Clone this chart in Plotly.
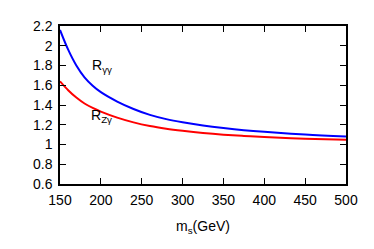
import plotly.graph_objects as go

ms = [150, 160, 170, 180, 190, 200, 220, 240, 260, 280, 300, 325, 350, 375, 400, 450, 500]
r_gg = [2.16, 1.96, 1.80, 1.68, 1.595, 1.53, 1.435, 1.36, 1.30, 1.257, 1.225, 1.193, 1.167, 1.145, 1.128, 1.101, 1.080]
r_zg = [1.64, 1.55, 1.475, 1.415, 1.37, 1.333, 1.272, 1.224, 1.187, 1.16, 1.139, 1.117, 1.100, 1.087, 1.076, 1.059, 1.047]

x_ticks = [150, 200, 250, 300, 350, 400, 450, 500]
y_ticks = [0.6, 0.8, 1.0, 1.2, 1.4, 1.6, 1.8, 2.0, 2.2]
y_labels = ["0.6", "0.8", "1", "1.2", "1.4", "1.6", "1.8", "2", "2.2"]

FONT = "Liberation Sans, Arial, sans-serif"

fig = go.Figure()
fig.add_trace(go.Scatter(x=ms, y=r_gg, mode="lines", line=dict(color="#0000ff", width=2, shape="spline"),
                         showlegend=False))
fig.add_trace(go.Scatter(x=ms, y=r_zg, mode="lines", line=dict(color="#ff0000", width=2, shape="spline"),
                         showlegend=False))

fig.add_annotation(x=202, y=1.79, text="R<sub>γγ</sub>", showarrow=False,
                   font=dict(family=FONT, size=14, color="black"))
fig.add_annotation(x=201, y=1.285, text="R<sub>Zγ</sub>", showarrow=False,
                   font=dict(family=FONT, size=14, color="black"))

axis_common = dict(showline=True, linecolor="black", linewidth=1.5, mirror="ticks",
                   ticks="inside", ticklen=6, tickwidth=1.2, tickcolor="black",
                   showgrid=False, zeroline=False,
                   tickfont=dict(family=FONT, size=14, color="black"))

fig.update_xaxes(range=[150, 500], tickvals=x_ticks, ticktext=[str(v) for v in x_ticks],
                 ticklabelstandoff=2,
                 title=dict(text="m<sub>s</sub>(GeV)", font=dict(family=FONT, size=14, color="black"), standoff=15),
                 **axis_common)
fig.update_yaxes(range=[0.6, 2.2], tickvals=y_ticks, ticktext=y_labels, ticklabelstandoff=3, **axis_common)

fig.update_layout(width=374, height=249, margin=dict(l=52, r=36, t=10, b=73),
                  plot_bgcolor="white", paper_bgcolor="white",
                  font=dict(family=FONT, size=14, color="black"))

fig.write_html("out.html")
